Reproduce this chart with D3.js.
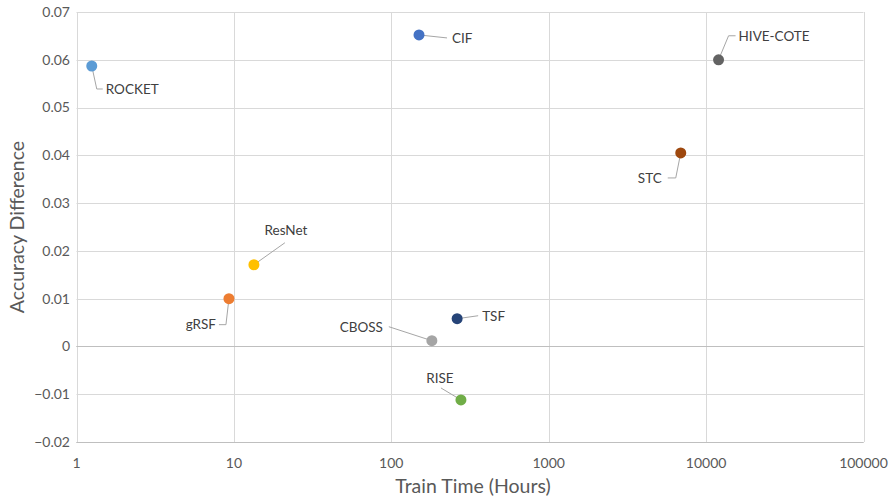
<!DOCTYPE html>
<html>
<head>
<meta charset="utf-8">
<script src="https://cdn.jsdelivr.net/npm/d3@7"></script>
<style>
  body { margin: 0; background: #fff; }
  svg text { font-family: Lato, "Open Sans", sans-serif; }
</style>
</head>
<body>
<svg id="chart" width="894" height="500"></svg>
<script>
// ---- data ----
const methods = ["ROCKET", "CIF", "HIVE-COTE", "STC", "ResNet", "gRSF", "TSF", "CBOSS", "RISE"];
const trainHours = [1.25, 150, 12000, 6900, 13.4, 9.3, 262, 181, 277];
const accDiff = [0.0587, 0.0652, 0.0600, 0.0405, 0.0171, 0.0100, 0.0058, 0.0012, -0.0112];
const xTicks = [1, 10, 100, 1000, 10000, 100000];
const yTicks = [-0.02, -0.01, 0, 0.01, 0.02, 0.03, 0.04, 0.05, 0.06, 0.07];

// ---- styles / layout (not data) ----
const colors = ["#5B9BD5", "#4472C4", "#636363", "#9E480E", "#FFC000", "#ED7D31", "#264478", "#A5A5A5", "#70AD47"];
const labelLayout = {
  "ROCKET":    { dx: 14,  dy: 23,  anchor: "start",  elbow: [5, 23],  end: [11, 23] },
  "CIF":       { dx: 33,  dy: 3,   anchor: "start",  elbow: null,     end: [28, 3] },
  "HIVE-COTE": { dx: 20,  dy: -24, anchor: "start",  elbow: [10, -24], end: [17, -24] },
  "STC":       { dx: -19, dy: 25,  anchor: "end",    elbow: [-5, 25], end: [-13, 25] },
  "ResNet":    { dx: 32,  dy: -34, anchor: "middle", elbow: null,     end: [31, -22] },
  "gRSF":      { dx: -13, dy: 26,  anchor: "end",    elbow: [-3, 26], end: [-10, 26] },
  "TSF":       { dx: 25,  dy: -2,  anchor: "start",  elbow: null,     end: [21, -3] },
  "CBOSS":     { dx: -49, dy: -13, anchor: "end",    elbow: null,     end: [-43, -14] },
  "RISE":      { dx: -21, dy: -22, anchor: "middle", elbow: null,     end: [-20, -12] }
};

const svg = d3.select("#chart");
const margin = { left: 76.5, right: 894 - 863.5, top: 12, bottom: 500 - 442 };
const W = 894, H = 500;

const x = d3.scaleLog().domain([1, 100000]).range([margin.left, W - margin.right]);
const y = d3.scaleLinear().domain([-0.02, 0.07]).range([H - margin.bottom, margin.top]);

const grid = svg.append("g");
grid.selectAll("line.h").data(yTicks).join("line")
  .attr("x1", x(1)).attr("x2", x(100000))
  .attr("y1", d => Math.round(y(d)) + 0.5).attr("y2", d => Math.round(y(d)) + 0.5)
  .attr("stroke", d => (d === 0 || d === -0.02) ? "#BFBFBF" : "#D9D9D9")
  .attr("stroke-width", 1);
grid.selectAll("line.v").data(xTicks).join("line")
  .attr("x1", d => Math.round(x(d)) + 0.5).attr("x2", d => Math.round(x(d)) + 0.5)
  .attr("y1", y(0.07)).attr("y2", y(-0.02))
  .attr("stroke", "#D9D9D9").attr("stroke-width", 1);
svg.append("g").selectAll("line").data([0, -0.02]).join("line")
  .attr("x1", x(1)).attr("x2", x(100000))
  .attr("y1", d => Math.round(y(d)) + 0.5).attr("y2", d => Math.round(y(d)) + 0.5)
  .attr("stroke", "#BFBFBF");

const yFmt = d => d === 0 ? "0" : d3.format(".2f")(d);
svg.append("g").selectAll("text").data(yTicks).join("text")
  .attr("x", 70).attr("y", d => y(d))
  .attr("dy", "0.35em").attr("text-anchor", "end")
  .attr("font-size", 14).attr("fill", "#595959")
  .text(yFmt);

svg.append("g").selectAll("text").data(xTicks).join("text")
  .attr("x", d => x(d)).attr("y", 463)
  .attr("dy", "0.35em").attr("text-anchor", "middle")
  .attr("font-size", 14).attr("fill", "#595959")
  .text(d => d3.format("d")(d));

svg.append("text")
  .attr("x", (x(1) + x(100000)) / 2 + 3).attr("y", 486)
  .attr("dy", "0.35em").attr("text-anchor", "middle")
  .attr("font-size", 19.5).attr("fill", "#595959")
  .text("Train Time (Hours)");
svg.append("text")
  .attr("transform", `translate(17,${(y(0.07) + y(-0.02)) / 2}) rotate(-90)`)
  .attr("dy", "0.35em").attr("text-anchor", "middle")
  .attr("font-size", 19.5).attr("fill", "#595959")
  .text("Accuracy Difference");

const pts = methods.map((m, i) => ({ name: m, t: trainHours[i], a: accDiff[i], c: colors[i] }));

svg.append("g").selectAll("polyline").data(pts).join("polyline")
  .attr("points", d => {
    const L = labelLayout[d.name];
    const px = x(d.t), py = y(d.a);
    const p = [[px, py]];
    if (L.elbow) p.push([px + L.elbow[0], py + L.elbow[1]]);
    p.push([px + L.end[0], py + L.end[1]]);
    return p.map(q => q.join(",")).join(" ");
  })
  .attr("fill", "none").attr("stroke", "#A6A6A6").attr("stroke-width", 1);

svg.append("g").selectAll("circle").data(pts).join("circle")
  .attr("cx", d => x(d.t)).attr("cy", d => y(d.a)).attr("r", 5.5)
  .attr("fill", d => d.c);

svg.append("g").selectAll("text").data(pts).join("text")
  .attr("x", d => x(d.t) + labelLayout[d.name].dx)
  .attr("y", d => y(d.a) + labelLayout[d.name].dy)
  .attr("dy", "0.35em")
  .attr("text-anchor", d => labelLayout[d.name].anchor)
  .attr("font-size", 13.5).attr("fill", "#404040")
  .text(d => d.name);
</script>
</body>
</html>
